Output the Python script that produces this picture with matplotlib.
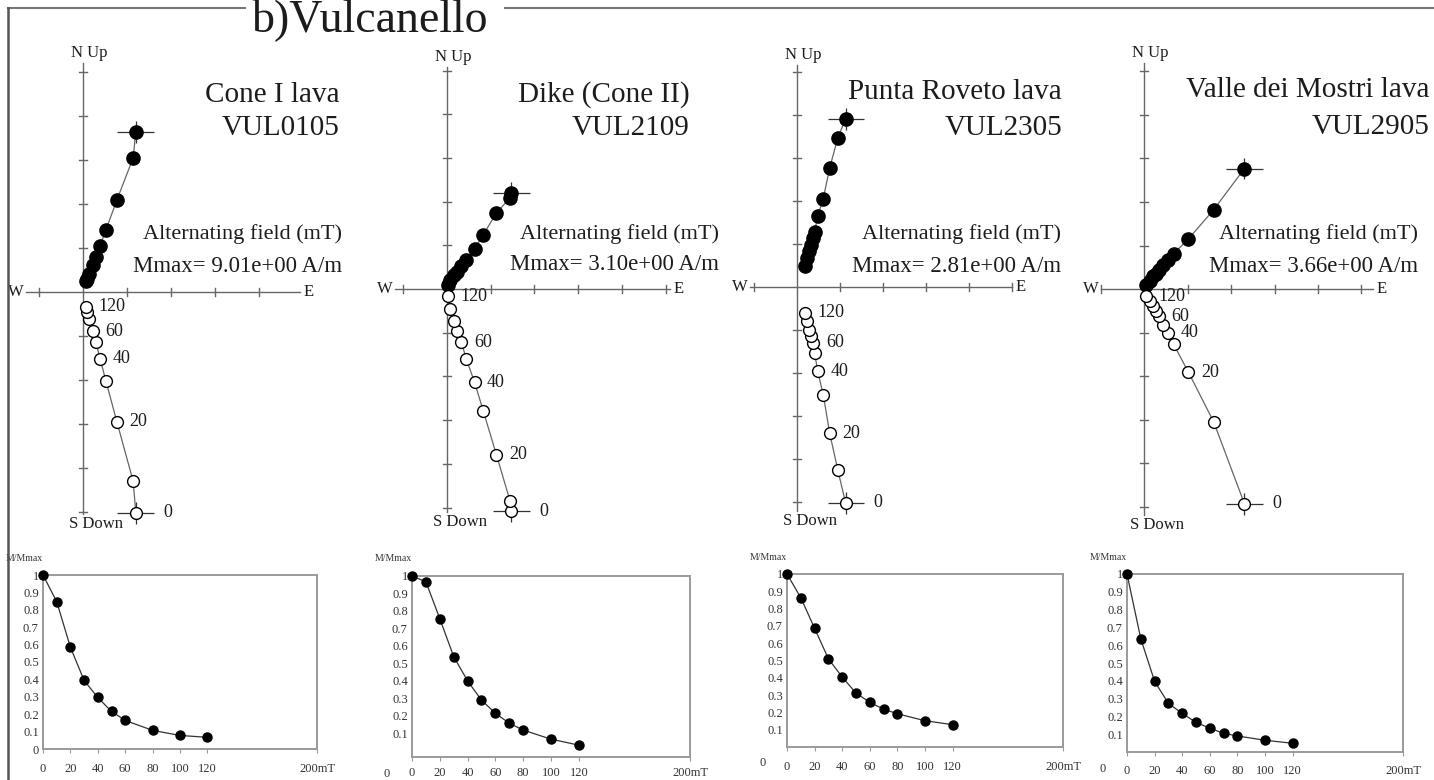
import matplotlib
matplotlib.use('Agg')
import matplotlib.pyplot as plt
from matplotlib.lines import Line2D

plt.rcParams['font.family'] = ['Liberation Serif', 'DejaVu Serif']

W, H = 1434, 780

# AF demagnetisation steps (mT) and orthogonal components (tick units)
cone_steps = [0, 10, 20, 30, 40, 50, 60, 80, 100, 120]
cone_east = [1.20, 1.14, 0.77, 0.52, 0.39, 0.29, 0.22, 0.13, 0.09, 0.06]
cone_north = [3.64, 3.05, 2.09, 1.41, 1.05, 0.80, 0.62, 0.42, 0.30, 0.24]
cone_down = [5.02, 4.30, 2.95, 2.02, 1.52, 1.14, 0.89, 0.61, 0.45, 0.34]
cone_decay = [1.0, 0.847, 0.585, 0.394, 0.296, 0.216, 0.164, 0.107, 0.078, 0.067]

dike_steps = [0, 10, 20, 30, 40, 50, 60, 70, 80, 100, 120]
dike_east = [1.47, 1.44, 1.13, 0.83, 0.63, 0.44, 0.33, 0.23, 0.16, 0.07, 0.02]
dike_north = [2.20, 2.08, 1.74, 1.24, 0.92, 0.67, 0.52, 0.40, 0.31, 0.20, 0.10]
dike_down = [5.09, 4.84, 3.79, 2.79, 2.13, 1.60, 1.22, 0.97, 0.74, 0.46, 0.17]
dike_decay = [1.0, 0.967, 0.756, 0.539, 0.40, 0.29, 0.215, 0.158, 0.119, 0.067, 0.033]

punta_steps = [0, 10, 20, 30, 40, 50, 60, 70, 80, 100, 120]
punta_east = [1.13, 0.95, 0.76, 0.61, 0.48, 0.41, 0.38, 0.33, 0.28, 0.24, 0.19]
punta_north = [3.91, 3.47, 2.77, 2.05, 1.64, 1.29, 1.14, 0.98, 0.83, 0.67, 0.50]
punta_down = [5.02, 4.26, 3.40, 2.50, 1.96, 1.53, 1.30, 1.15, 0.99, 0.80, 0.60]
punta_decay = [1.0, 0.863, 0.686, 0.51, 0.404, 0.312, 0.258, 0.219, 0.192, 0.152, 0.129]

valle_steps = [0, 10, 20, 30, 40, 50, 60, 70, 80, 100, 120]
valle_east = [2.31, 1.60, 1.02, 0.68, 0.56, 0.44, 0.35, 0.28, 0.21, 0.13, 0.04]
valle_north = [2.77, 1.82, 1.15, 0.81, 0.67, 0.56, 0.44, 0.35, 0.29, 0.19, 0.10]
valle_down = [4.94, 3.05, 1.91, 1.27, 1.01, 0.82, 0.63, 0.51, 0.40, 0.28, 0.17]
valle_decay = [1.0, 0.636, 0.397, 0.273, 0.217, 0.166, 0.134, 0.105, 0.09, 0.066, 0.049]

site_names = ['Cone I lava', 'Dike (Cone II)', 'Punta Roveto lava', 'Valle dei Mostri lava']
sample_ids = ['VUL0105', 'VUL2109', 'VUL2305', 'VUL2905']
mmax_labels = ['Mmax= 9.01e+00 A/m', 'Mmax= 3.10e+00 A/m',
               'Mmax= 2.81e+00 A/m', 'Mmax= 3.66e+00 A/m']
labelled_steps = [0, 20, 40, 60, 120]

decay_xticks = [0, 20, 40, 60, 80, 100, 120, 200]
decay_xlabels = ['0', '20', '40', '60', '80', '100', '120', '200mT']
decay_yticks = [0.1, 0.2, 0.3, 0.4, 0.5, 0.6, 0.7, 0.8, 0.9, 1.0]
decay_ylabels = ['0.1', '0.2', '0.3', '0.4', '0.5', '0.6', '0.7', '0.8', '0.9', '1']

panels = [
    (cone_steps, cone_east, cone_north, cone_down, cone_decay),
    (dike_steps, dike_east, dike_north, dike_down, dike_decay),
    (punta_steps, punta_east, punta_north, punta_down, punta_decay),
    (valle_steps, valle_east, valle_north, valle_down, valle_decay),
]

# layout (pixels): origin x, origin y, pixels per unit, W end, E end, S end, N end
zij_geom = [
    (83, 292, 44.0, -1.30, 4.93, -5.05, 5.20),
    (447, 289, 43.7, -1.19, 5.10, -5.10, 5.08),
    (797, 287, 43.0, -1.09, 5.00, -5.20, 5.16),
    (1144, 289, 43.5, -1.00, 5.26, -5.20, 5.20),
]
# text anchors (pixels): title right x, title y, sample y, info right x, alt y, mmax y
text_geom = [
    (340, 95, 128, 342, 234, 266),
    (690, 95, 128, 719, 234, 264),
    (1062, 92, 128, 1061, 234, 266),
    (1430, 90, 127, 1418, 234, 267),
]
# decay frames (pixels): left, right, top, bottom, ymin, tick label pad
decay_geom = [
    (43, 317, 575, 749, 0.0, 7),
    (412, 690, 576, 757, -0.035, 4),
    (787, 1063, 574, 747, 0.0, 7),
    (1127, 1403, 574, 752, 0.0, 6),
]

ink = '#1c1c1c'
grey = '#666666'

fig = plt.figure(figsize=(W / 100, H / 100), dpi=100)


def fx(px):
    return px / W


def fy(py):
    return 1 - py / H


for i, (steps, east, north, down, decay) in enumerate(panels):
    ox, oy, unit, w_end, e_end, s_end, n_end = zij_geom[i]
    span = 5.7
    left = ox - 1.7 * unit
    ax = fig.add_axes([fx(left), fy(oy + span * unit), 7.4 * unit / W, 2 * span * unit / H])
    ax.set_xlim(-1.7, 5.7)
    ax.set_ylim(-span, span)
    ax.axis('off')

    # axes of the orthogonal plot
    ax.plot([w_end, e_end], [0, 0], color=grey, lw=1.0, zorder=1)
    ax.plot([0, 0], [s_end, n_end], color=grey, lw=1.0, zorder=1)
    for k in range(-5, 6):
        if k != 0 and s_end <= k <= n_end:
            ax.plot([-0.1, 0.1], [k, k], color=grey, lw=1.0, zorder=1)
        if k != 0 and w_end <= k <= e_end:
            ax.plot([k, k], [-0.1, 0.1], color=grey, lw=1.0, zorder=1)
    ax.text(w_end - 0.05, 0, 'W', ha='right', va='center', fontsize=12, color=ink)
    ax.text(e_end + 0.08, 0, 'E', ha='left', va='center', fontsize=12, color=ink)
    ax.text(0.15, n_end + 0.05, 'N Up', ha='center', va='bottom', fontsize=12, color=ink)
    ax.text(0.3, s_end - 0.05, 'S Down', ha='center', va='top', fontsize=12, color=ink)

    # horizontal projection (filled) and vertical projection (open)
    neg_down = [-d for d in down]
    ax.plot(east, north, color=grey, lw=0.9, zorder=2)
    ax.plot(east, neg_down, color=grey, lw=0.9, zorder=2)
    ax.errorbar([east[0]], [north[0]], xerr=0.42, yerr=0.25, fmt='none',
                ecolor='#333333', elinewidth=0.9, zorder=2)
    ax.errorbar([east[0]], [neg_down[0]], xerr=0.42, yerr=0.25, fmt='none',
                ecolor='#333333', elinewidth=0.9, zorder=2)
    ax.plot(east, north, 'o', ms=9.5, mfc='black', mec='black', zorder=3)
    ax.plot(east, neg_down, 'o', ms=8.5, mfc='white', mec='black', mew=1.0, zorder=3)

    for s in labelled_steps:
        j = steps.index(s)
        off = 20 if s == 0 else 9
        ax.annotate(str(s), (east[j], neg_down[j]), xytext=(off, 0),
                    textcoords='offset points', ha='left', va='center',
                    fontsize=13, color=ink)

    tx, ty, sy, ix, ay, my = text_geom[i]
    fig.text(fx(tx), fy(ty), site_names[i], ha='right', va='center', fontsize=21, color=ink)
    fig.text(fx(tx), fy(sy), sample_ids[i], ha='right', va='center', fontsize=21, color=ink)
    fig.text(fx(ix), fy(ay), 'Alternating field (mT)', ha='right', va='center',
             fontsize=16, color=ink)
    fig.text(fx(ix), fy(my), mmax_labels[i], ha='right', va='center',
             fontsize=16.5, color=ink)

    # intensity decay
    l, r, t, b, ymin, pad = decay_geom[i]
    dax = fig.add_axes([fx(l), fy(b), (r - l) / W, (b - t) / H])
    dax.plot(steps, decay, '-', color='#333333', lw=0.9, clip_on=False)
    dax.plot(steps, decay, 'o', ms=6.5, color='black', clip_on=False, zorder=3)
    dax.set_xlim(0, 200)
    dax.set_ylim(ymin, 1.0)
    for sp in dax.spines.values():
        sp.set_color('#9a9a9a')
        sp.set_linewidth(1.4)
    dax.set_xticks(decay_xticks)
    dax.set_xticklabels(decay_xlabels)
    if i == 0:
        dax.set_yticks([0.0] + decay_yticks)
        dax.set_yticklabels(['0'] + decay_ylabels)
    else:
        dax.set_yticks(decay_yticks)
        dax.set_yticklabels(decay_ylabels)
        dax.text(-0.09, -0.095, '0', transform=dax.transAxes, ha='center', va='center',
                 fontsize=9, color='#333333')
    dax.tick_params(axis='x', length=3, color='#9a9a9a', labelsize=9,
                    labelcolor='#333333', pad=pad)
    dax.tick_params(axis='y', length=0, labelsize=9, labelcolor='#333333', pad=3)
    dax.text(0, 1.07, 'M/Mmax', transform=dax.transAxes, ha='right', va='bottom',
             fontsize=7, color='#333333')

fig.text(fx(370), fy(31), 'b)Vulcanello', ha='center', va='baseline', fontsize=33, color=ink)
fig.add_artist(Line2D([fx(8), fx(245)], [fy(8), fy(8)], color='#777777', lw=1.5))
fig.add_artist(Line2D([fx(505), fx(1434)], [fy(8), fy(8)], color='#777777', lw=1.5))
fig.add_artist(Line2D([fx(8), fx(8)], [0, fy(8)], color='#555555', lw=1.8))

fig.savefig('out.png', dpi=100)
